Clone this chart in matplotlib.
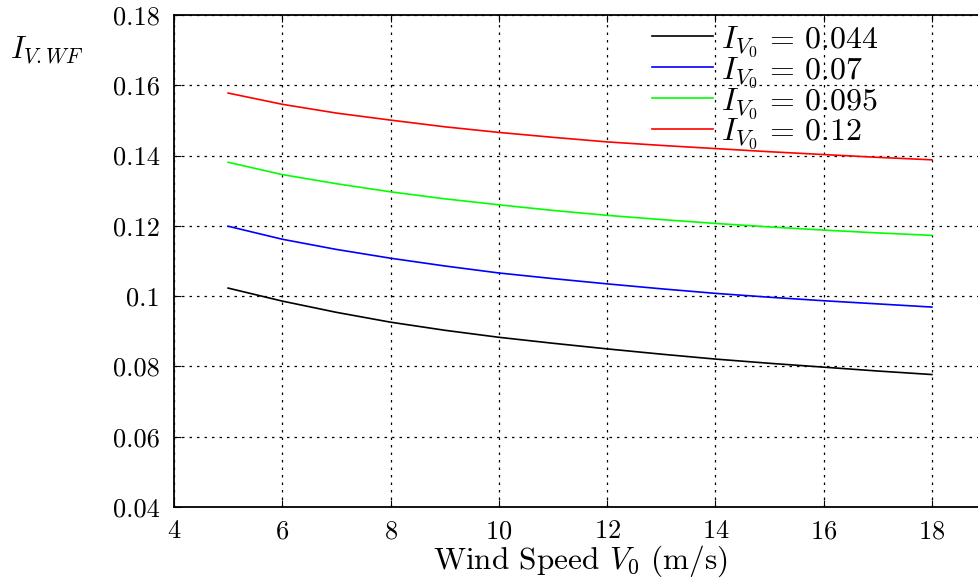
import matplotlib
matplotlib.use("Agg")
import matplotlib.pyplot as plt

plt.rcParams['font.family'] = ['cmr10', 'DejaVu Serif']
plt.rcParams['mathtext.fontset'] = 'cm'
plt.rcParams['axes.unicode_minus'] = False
plt.rcParams['axes.formatter.use_mathtext'] = True

# wind speed (m/s)
v0 = [5, 6, 7, 8, 9, 10, 11, 12, 13, 14, 15, 16, 17, 18]

# I_V.WF for each ambient turbulence intensity
i_044 = [0.1023, 0.0986, 0.0954, 0.0926, 0.0903, 0.0883, 0.0866, 0.0850,
         0.0835, 0.0821, 0.0809, 0.0798, 0.0787, 0.0777]
i_070 = [0.1199, 0.1162, 0.1133, 0.1108, 0.1086, 0.1066, 0.1050, 0.1035,
         0.1021, 0.1008, 0.0997, 0.0987, 0.0978, 0.0969]
i_095 = [0.1381, 0.1346, 0.1320, 0.1297, 0.1277, 0.1260, 0.1244, 0.1230,
         0.1218, 0.1207, 0.1197, 0.1188, 0.1180, 0.1173]
i_120 = [0.1578, 0.1546, 0.1521, 0.1501, 0.1482, 0.1466, 0.1452, 0.1439,
         0.1429, 0.1420, 0.1411, 0.1403, 0.1395, 0.1388]

labels = [r'$I_{V_0}\,=\,0.044$', r'$I_{V_0}\,=\,0.07$',
          r'$I_{V_0}\,=\,0.095$', r'$I_{V_0}\,=\,0.12$']
colors = ['black', '#0000ff', '#00ff00', '#ff0000']

fig = plt.figure(figsize=(9.79, 5.78), dpi=100)
ax = fig.add_axes([0.1777, 0.1228, 0.8295, 0.8512])

for ys, lab, c in zip([i_044, i_070, i_095, i_120], labels, colors):
    ax.plot(v0, ys, color=c, lw=1.2, label=lab)

ax.set_xlim(4, 19)
ax.set_ylim(0.04, 0.18)
ax.set_xticks([4, 6, 8, 10, 12, 14, 16, 18])
ax.set_yticks([0.04, 0.06, 0.08, 0.1, 0.12, 0.14, 0.16, 0.18])
ax.set_yticklabels(['0.04', '0.06', '0.08', '0.1', '0.12', '0.14', '0.16', '0.18'])
ax.tick_params(direction='in', top=True, right=True, length=5, labelsize=19)
ax.tick_params(axis='x', pad=9)
ax.tick_params(axis='y', pad=10)
ax.grid(True, color='black', lw=0.9, dashes=(2, 4))
for s in ax.spines.values():
    s.set_linewidth(1.3)

ax.set_xlabel(r'Wind Speed $V_0$ (m/s)', fontsize=22.5, labelpad=0)
fig.text(10 / 979, 1 - 50 / 578, r'$I_{V.WF}$', fontsize=22, va='center', ha='left')

ax.legend(loc='upper left', bbox_to_anchor=(652 / 979, 1 - 24 / 578),
          bbox_transform=fig.transFigure, frameon=False, fontsize=23,
          handlelength=1.9, handletextpad=0.25, labelspacing=-0.12,
          borderpad=0, borderaxespad=0)

fig.savefig('out.png', dpi=100)
